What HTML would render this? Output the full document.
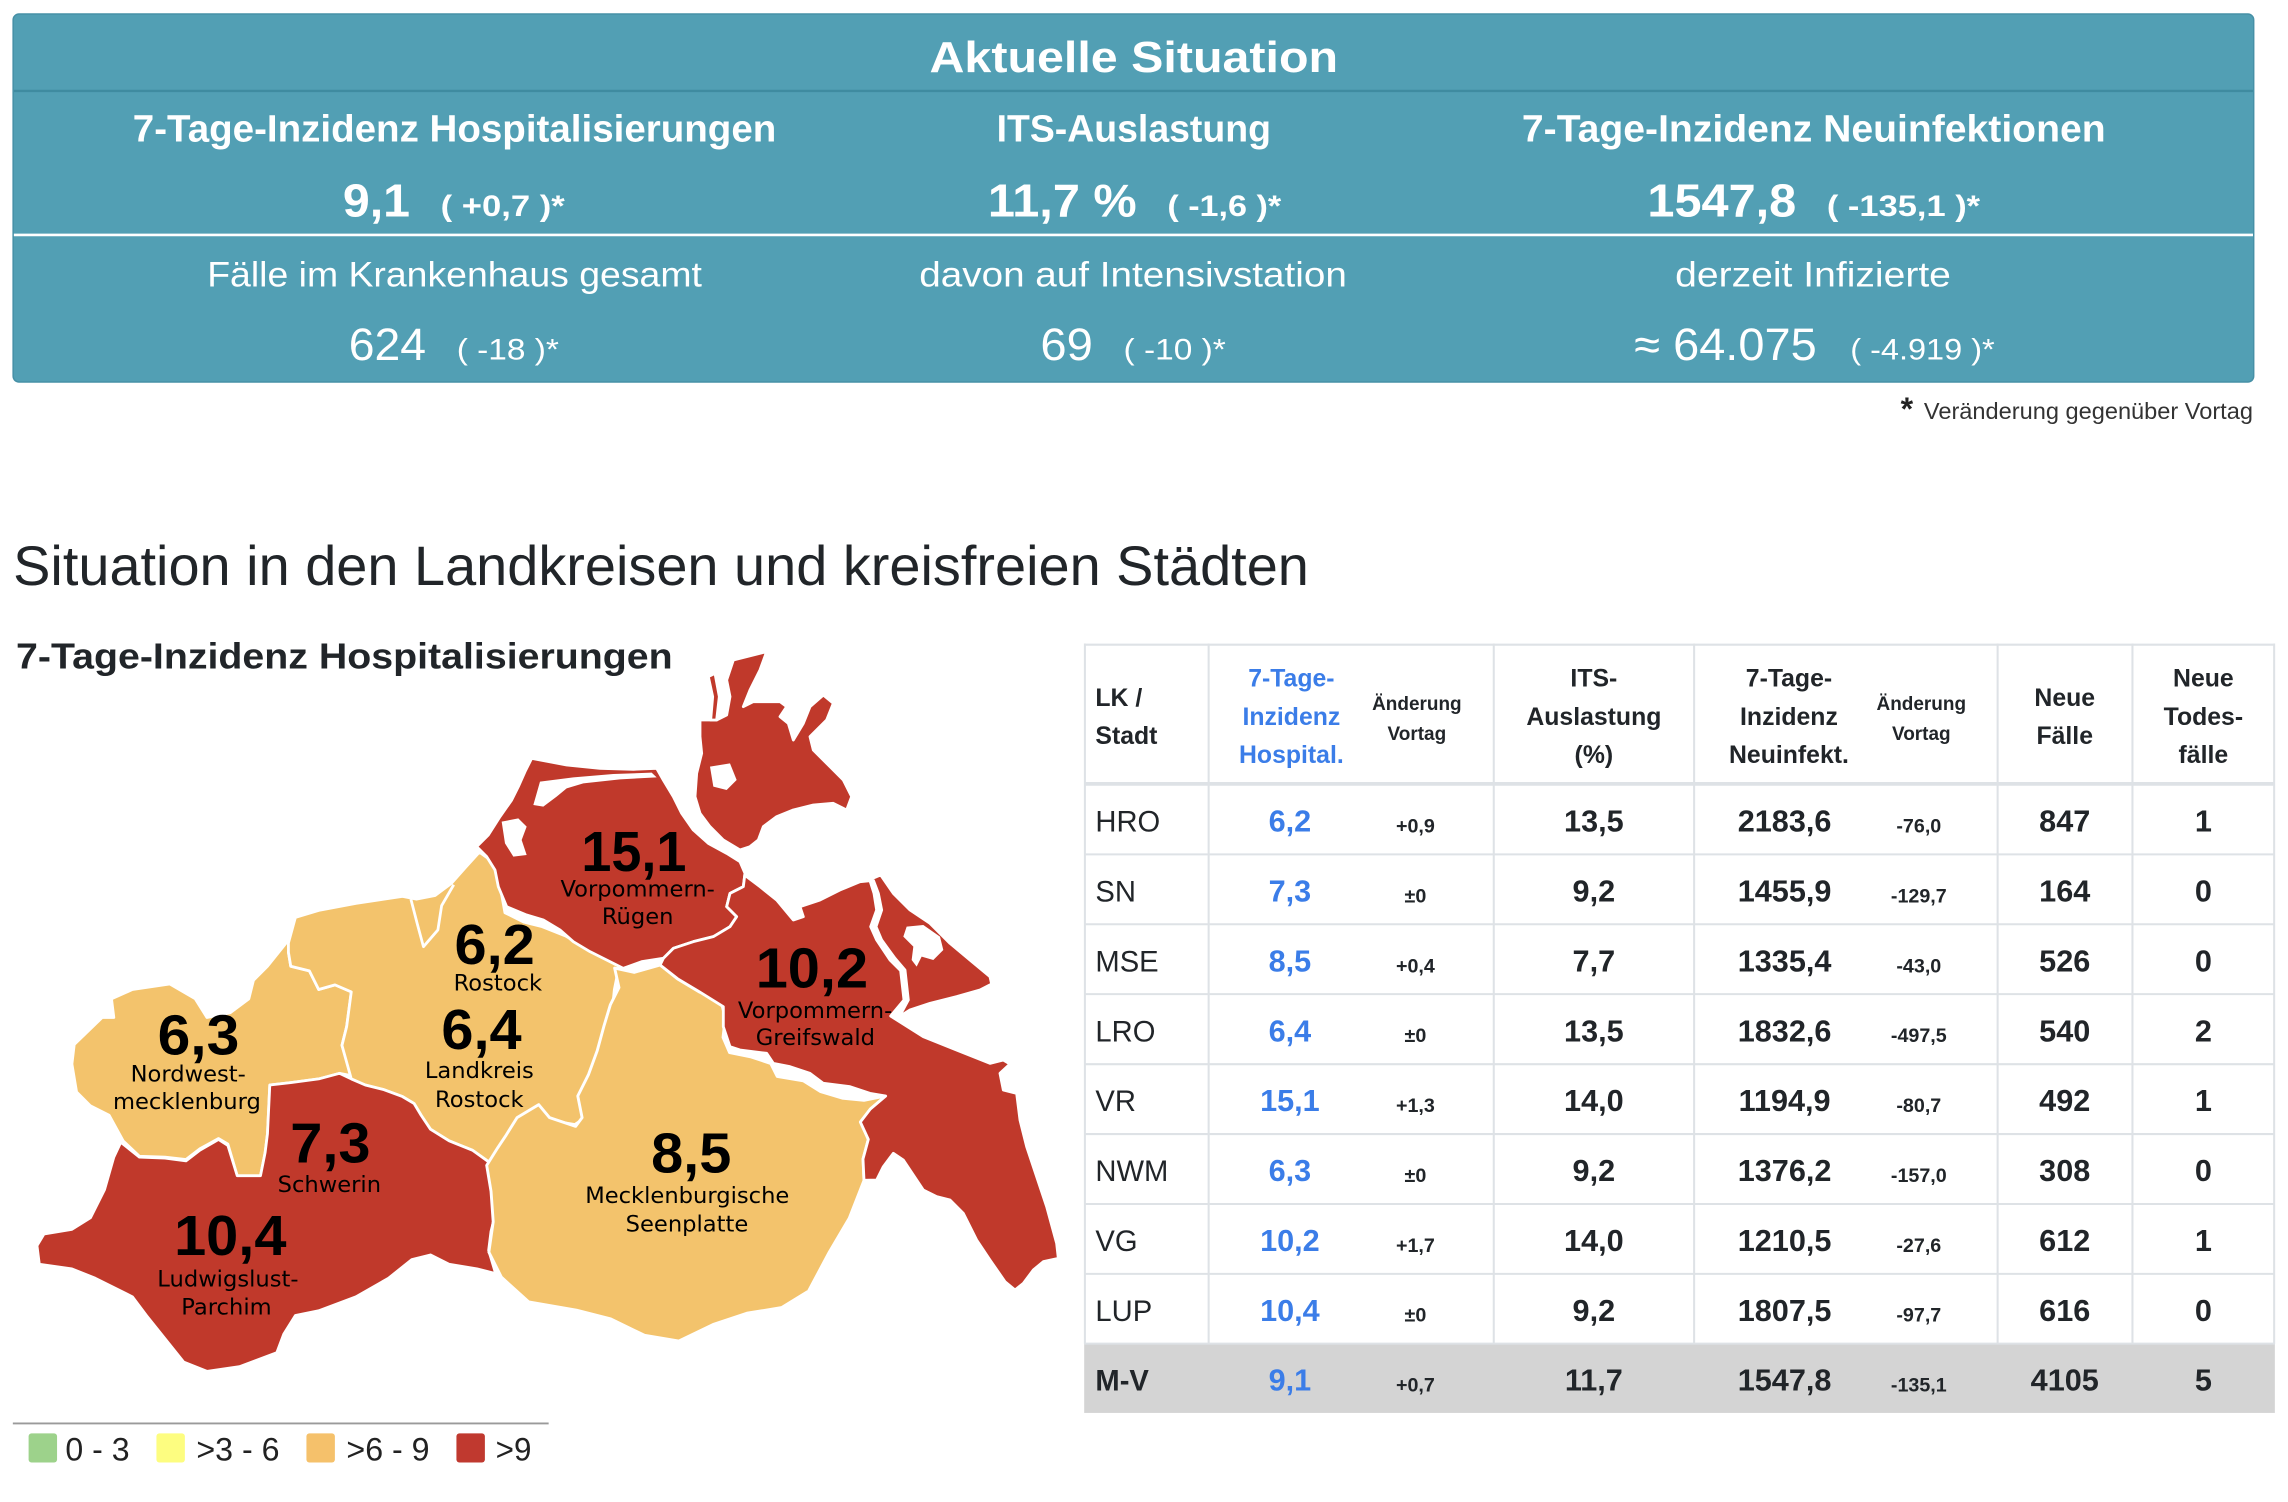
<!DOCTYPE html>
<html><head><meta charset="utf-8">
<style>html,body{margin:0;padding:0;background:#fff}svg{display:block}</style>
</head><body>
<svg xmlns="http://www.w3.org/2000/svg" width="2288" height="1502" viewBox="0 0 1568 1029.34" font-family="'Liberation Sans', Arial, sans-serif">
<rect x="0" y="0" width="1568" height="1029.34" fill="#fff"/>

<!-- Top box -->
<rect x="9" y="9.6" width="1535.5" height="252.2" rx="4" fill="#529fb4" stroke="#4690a6" stroke-width="1"/>
<line x1="9.5" y1="62.3" x2="1544" y2="62.3" stroke="#3f8ba0" stroke-width="1.6"/>
<line x1="9.5" y1="161" x2="1544" y2="161" stroke="#fff" stroke-width="1.8"/>
<g fill="#fff">
<text x="777" y="49.5" font-size="30" font-weight="bold" text-anchor="middle" textLength="280" lengthAdjust="spacingAndGlyphs">Aktuelle Situation</text>
<text x="311.5" y="97" font-size="26" font-weight="bold" text-anchor="middle" textLength="441" lengthAdjust="spacingAndGlyphs">7-Tage-Inzidenz Hospitalisierungen</text>
<text x="777" y="97" font-size="26" font-weight="bold" text-anchor="middle" textLength="188" lengthAdjust="spacingAndGlyphs">ITS-Auslastung</text>
<text x="1243" y="97" font-size="26" font-weight="bold" text-anchor="middle" textLength="400" lengthAdjust="spacingAndGlyphs">7-Tage-Inzidenz Neuinfektionen</text>

<text x="235" y="148.5" font-size="32" font-weight="bold" textLength="46" lengthAdjust="spacingAndGlyphs">9,1</text>
<text x="302" y="148" font-size="20" font-weight="bold" textLength="85" lengthAdjust="spacingAndGlyphs">( +0,7 )*</text>
<text x="677" y="148.5" font-size="32" font-weight="bold" textLength="102" lengthAdjust="spacingAndGlyphs">11,7 %</text>
<text x="800" y="148" font-size="20" font-weight="bold" textLength="78" lengthAdjust="spacingAndGlyphs">( -1,6 )*</text>
<text x="1129" y="148.5" font-size="32" font-weight="bold" textLength="102" lengthAdjust="spacingAndGlyphs">1547,8</text>
<text x="1252" y="148" font-size="20" font-weight="bold" textLength="105" lengthAdjust="spacingAndGlyphs">( -135,1 )*</text>

<text x="311.5" y="196.5" font-size="24" text-anchor="middle" textLength="339" lengthAdjust="spacingAndGlyphs">Fälle im Krankenhaus gesamt</text>
<text x="776.5" y="196.5" font-size="24" text-anchor="middle" textLength="293" lengthAdjust="spacingAndGlyphs">davon auf Intensivstation</text>
<text x="1242.5" y="196.5" font-size="24" text-anchor="middle" textLength="189" lengthAdjust="spacingAndGlyphs">derzeit Infizierte</text>

<text x="239" y="246.7" font-size="31" textLength="53" lengthAdjust="spacingAndGlyphs">624</text>
<text x="313" y="246.5" font-size="20" textLength="70" lengthAdjust="spacingAndGlyphs">( -18 )*</text>
<text x="713" y="246.7" font-size="31" textLength="36" lengthAdjust="spacingAndGlyphs">69</text>
<text x="770" y="246.5" font-size="20" textLength="70" lengthAdjust="spacingAndGlyphs">( -10 )*</text>
<text x="1120" y="246.7" font-size="31" textLength="125" lengthAdjust="spacingAndGlyphs">≈ 64.075</text>
<text x="1268" y="246.5" font-size="20" textLength="99" lengthAdjust="spacingAndGlyphs">( -4.919 )*</text>
</g>

<!-- footnote -->
<text x="1302.5" y="288" font-size="22" font-weight="bold" fill="#222">*</text>
<text x="1318.5" y="287" font-size="16" fill="#333" textLength="225.5" lengthAdjust="spacingAndGlyphs">Veränderung gegenüber Vortag</text>

<!-- Heading -->
<text x="9" y="401" font-size="38" fill="#212529" textLength="888" lengthAdjust="spacingAndGlyphs">Situation in den Landkreisen und kreisfreien Städten</text>
<text x="11" y="458" font-size="25" font-weight="bold" fill="#212529" textLength="450" lengthAdjust="spacingAndGlyphs">7-Tage-Inzidenz Hospitalisierungen</text>

<!-- MAP west group -->
<g transform="translate(20.56,442) scale(0.3191)" stroke="#fff" stroke-width="6" stroke-linejoin="round">
<polygon fill="#f3c36c" points="95,858 155,800 180,800 175,760 220,740 300,728 355,760 380,800 430,790 470,760 480,720 510,690 550,640 565,625 555,660 560,690 600,700 620,740 655,730 690,745 680,820 670,860 690,925 665,920 620,932 560,940 515,945 510,1050 505,1090 495,1140 445,1140 425,1072 405,1060 365,1082 335,1105 290,1100 235,1098 200,1065 170,1010 130,990 100,960 90,900"/>
<polygon fill="#f3c36c" points="555,640 570,585 620,570 700,555 800,540 830,546 870,538 905,512 935,478 965,445 1000,470 1010,520 1020,575 1060,595 1100,605 1150,625 1210,660 1265,690 1255,740 1250,790 1235,850 1220,900 1195,950 1185,1020 1170,1030 1110,1020 1085,1050 1055,1030 1040,1070 1000,1095 985,1110 950,1085 900,1065 860,1040 840,1010 825,985 800,970 760,955 720,945 690,932 670,860 680,820 690,745 655,730 620,740 600,700 560,690 555,660"/>
<polyline fill="none" points="818,546 832,600 845,648 876,612 884,560 910,515"/>
<polygon fill="#c0392b" points="195,1068 235,1100 290,1102 335,1108 365,1085 405,1062 425,1075 445,1140 495,1140 505,1090 510,1050 515,945 560,940 620,932 665,920 690,932 720,945 760,955 800,970 825,985 840,1010 860,1040 900,1065 950,1085 985,1110 995,1160 1000,1220 990,1260 985,1300 1000,1350 960,1340 900,1330 860,1310 820,1320 770,1360 700,1400 620,1430 570,1440 545,1480 530,1520 450,1550 380,1560 330,1540 290,1490 250,1440 220,1400 140,1360 90,1340 20,1330 15,1290 30,1265 90,1255 130,1230 160,1170 180,1100"/>
</g>

<!-- MSE (east group) -->
<g transform="translate(274.1,442) scale(0.2972)" stroke="#fff" stroke-width="6.7" stroke-linejoin="round">
<polygon fill="#f3c36c" points="495,745 540,755 600,738 640,770 690,800 740,820 750,860 745,905 760,940 810,950 855,965 870,995 930,1005 970,1030 1020,1045 1070,1050 1120,1040 1085,1070 1062,1100 1080,1140 1068,1185 1070,1235 1036,1322 990,1400 942,1490 880,1528 800,1541 722,1567 643,1605 564,1592 486,1554 407,1534 297,1515 234,1458 205,1400 215,1330 210,1260 200,1200 225,1160 245,1130 270,1090 320,1060 345,1090 405,1110 420,1090 410,1040 435,990 455,935 470,880 485,830 505,790"/>
</g>

<!-- VR + Rügen -->
<g transform="translate(315.24,438.6) scale(0.22844)" stroke="#fff" stroke-width="8.5" stroke-linejoin="round">
<polygon fill="#c0392b" points="50,620 85,585 120,530 155,480 175,440 195,395 215,355 320,375 420,385 520,388 590,385 610,420 640,470 665,520 700,570 745,610 800,640 840,665 855,700 850,740 810,760 800,800 830,830 810,860 760,890 700,905 640,925 610,955 545,965 490,985 440,960 390,935 340,905 300,870 250,840 200,825 140,800 115,740 105,690 80,650"/>
<polygon fill="#c0392b" points="720,240 770,240 800,225 810,170 800,120 820,60 920,35 900,90 870,150 850,200 880,185 960,185 980,200 960,230 985,250 1000,300 1030,250 1050,200 1090,165 1120,190 1100,240 1050,290 1060,330 1110,380 1150,420 1175,470 1160,510 1120,490 1060,495 1000,510 950,530 910,560 895,600 870,620 840,630 790,600 750,560 720,520 705,470 710,400 725,340 720,290"/>
<polygon fill="#c0392b" points="745,110 765,100 778,170 770,240 752,240 758,170"/>
<g fill="#fff" stroke="none">
<polygon points="240,425 340,412 460,402 575,398 590,412 480,418 370,430 320,445 290,470 250,500 220,495 230,460"/>
<polygon points="125,545 175,535 200,560 185,600 200,645 160,650 135,610"/>
<polygon points="750,380 810,370 830,420 800,450 760,440"/>
</g>
</g>

<!-- VG + Usedom -->
<g transform="translate(472.86,589.37) scale(0.22844)" stroke="#fff" stroke-width="8.5" stroke-linejoin="round">
<polygon fill="#c0392b" points="170,50 210,80 260,120 310,180 340,170 330,140 390,120 450,90 510,65 540,62 552,100 560,150 542,200 560,240 600,300 632,332 642,420 602,468 700,530 800,570 900,610 940,600 960,612 930,640 940,690 980,700 990,780 1010,860 1040,950 1070,1040 1100,1150 1105,1195 1060,1205 1030,1230 1000,1270 975,1290 945,1265 900,1200 860,1140 820,1060 780,1020 740,1010 700,990 640,900 610,880 580,920 560,960 522,961 519,897 535,838 511,786 541,747 587,708 540,700 480,680 400,670 360,640 300,620 250,610 230,580 150,570 120,560 100,500 100,440 27.7,395 -37.5,356 -89.6,315 -80,295 -50,265 10,245 70,230 120,200 140,170 110,140 120,100 160,80 165,40"/>
<polygon fill="#c0392b" points="548,55 572,45 610,100 660,150 720,190 780,250 840,300 900,350 905,372 870,390 800,410 720,430 660,450 628,470 655,420 645,330 615,295 575,240 558,200 575,150 565,100"/>
<polygon fill="#fff" stroke="none" points="650,200 700,195 750,230 760,270 730,300 695,290 680,320 665,300 670,260 640,230"/>
</g>

<!-- Map labels -->
<g fill="#000" text-anchor="middle">
<g font-weight="bold" font-size="39">
<text x="434.4" y="596.8" textLength="72" lengthAdjust="spacingAndGlyphs">15,1</text>
<text x="339" y="660.6" textLength="55" lengthAdjust="spacingAndGlyphs">6,2</text>
<text x="330" y="719" textLength="55" lengthAdjust="spacingAndGlyphs">6,4</text>
<text x="136" y="722.8" textLength="56" lengthAdjust="spacingAndGlyphs">6,3</text>
<text x="226.4" y="796.8" textLength="55" lengthAdjust="spacingAndGlyphs">7,3</text>
<text x="157.8" y="860" textLength="77" lengthAdjust="spacingAndGlyphs">10,4</text>
<text x="473.7" y="803.5" textLength="55" lengthAdjust="spacingAndGlyphs">8,5</text>
<text x="556.4" y="676.8" textLength="77" lengthAdjust="spacingAndGlyphs">10,2</text>
</g>
<g font-family="'DejaVu Sans', Verdana, sans-serif" font-size="15.5">
<text x="437" y="614.3">Vorpommern-</text>
<text x="437" y="633.4">Rügen</text>
<text x="341.2" y="678.8">Rostock</text>
<text x="328.5" y="738.7">Landkreis</text>
<text x="328.5" y="758.8">Rostock</text>
<text x="129" y="741.3">Nordwest-</text>
<text x="128.1" y="760">mecklenburg</text>
<text x="225.7" y="817">Schwerin</text>
<text x="156.2" y="881.7">Ludwigslust-</text>
<text x="155.2" y="900.8">Parchim</text>
<text x="471" y="824.5">Mecklenburgische</text>
<text x="470.8" y="843.8">Seenplatte</text>
<text x="558.6" y="697.6">Vorpommern-</text>
<text x="558.8" y="716">Greifswald</text>
</g>
</g>

<!-- Legend -->
<line x1="8.8" y1="975.5" x2="376" y2="975.5" stroke="#9a9a9a" stroke-width="1.3"/>
<rect x="19.6" y="982.3" width="19.5" height="20" rx="2" fill="#9dd28b"/>
<rect x="107.2" y="982.3" width="19.5" height="20" rx="2" fill="#fdfd80"/>
<rect x="210" y="982.3" width="19.5" height="20" rx="2" fill="#f5c16b"/>
<rect x="312.8" y="982.3" width="19.5" height="20" rx="2" fill="#c0392f"/>
<g font-size="22" fill="#222">
<text x="44.8" y="1001" textLength="44" lengthAdjust="spacingAndGlyphs">0 - 3</text>
<text x="134.6" y="1001" textLength="57" lengthAdjust="spacingAndGlyphs">&gt;3 - 6</text>
<text x="237.4" y="1001" textLength="57" lengthAdjust="spacingAndGlyphs">&gt;6 - 9</text>
<text x="339.7" y="1001" textLength="24.5" lengthAdjust="spacingAndGlyphs">&gt;9</text>
</g>

<!-- Table -->
<rect x="743" y="920.8" width="816" height="47.5" fill="#d4d4d4"/>
<g stroke="#dee2e6" stroke-width="1.4">
<line x1="743" y1="441.8" x2="1559" y2="441.8"/>
<line x1="743" y1="585.5" x2="1559" y2="585.5"/>
<line x1="743" y1="633.4" x2="1559" y2="633.4"/>
<line x1="743" y1="681.3" x2="1559" y2="681.3"/>
<line x1="743" y1="729.3" x2="1559" y2="729.3"/>
<line x1="743" y1="777.2" x2="1559" y2="777.2"/>
<line x1="743" y1="825.1" x2="1559" y2="825.1"/>
<line x1="743" y1="873" x2="1559" y2="873"/>
<line x1="743" y1="920.8" x2="1559" y2="920.8"/>
<line x1="743.5" y1="441" x2="743.5" y2="921"/>
<line x1="828.3" y1="441" x2="828.3" y2="921"/>
<line x1="1023.7" y1="441" x2="1023.7" y2="921"/>
<line x1="1161" y1="441" x2="1161" y2="921"/>
<line x1="1369" y1="441" x2="1369" y2="921"/>
<line x1="1461.4" y1="441" x2="1461.4" y2="921"/>
<line x1="1558.5" y1="441" x2="1558.5" y2="921"/>
</g>
<line x1="743" y1="537.2" x2="1559" y2="537.2" stroke="#dee2e6" stroke-width="2.6"/>

<g font-weight="bold" fill="#212529" font-size="17">
<text x="750.7" y="483.8">LK /</text>
<text x="750.7" y="509.9">Stadt</text>
<g text-anchor="middle" fill="#3b7de8">
<text x="885" y="470.6">7-Tage-</text>
<text x="885" y="496.8">Inzidenz</text>
<text x="885" y="523">Hospital.</text>
</g>
<g text-anchor="middle">
<text x="1092.3" y="470.6">ITS-</text>
<text x="1092.3" y="496.8">Auslastung</text>
<text x="1092.3" y="523">(%)</text>
<text x="1226" y="470.6">7-Tage-</text>
<text x="1226" y="496.8">Inzidenz</text>
<text x="1226" y="523">Neuinfekt.</text>
<text x="1415" y="483.8">Neue</text>
<text x="1415" y="509.9">Fälle</text>
<text x="1510" y="470.6">Neue</text>
<text x="1510" y="496.8">Todes-</text>
<text x="1510" y="523">fälle</text>
<g font-size="13">
<text x="971" y="486.6">Änderung</text>
<text x="971" y="507">Vortag</text>
<text x="1316.7" y="486.6">Änderung</text>
<text x="1316.7" y="507">Vortag</text>
</g>
</g>
</g>

<!-- Table rows -->
<g fill="#212529" font-size="20">
<text x="750.7" y="569.9">HRO</text>
<text x="750.7" y="617.8">SN</text>
<text x="750.7" y="665.7">MSE</text>
<text x="750.7" y="713.6">LRO</text>
<text x="750.7" y="761.5">VR</text>
<text x="750.7" y="809.4">NWM</text>
<text x="750.7" y="857.3">VG</text>
<text x="750.7" y="905.2">LUP</text>
<text x="750.7" y="953.1" font-weight="bold">M-V</text>
</g>
<g font-weight="bold" font-size="21" text-anchor="middle" fill="#3b7de8">
<text x="884" y="569.9">6,2</text>
<text x="884" y="617.8">7,3</text>
<text x="884" y="665.7">8,5</text>
<text x="884" y="713.6">6,4</text>
<text x="884" y="761.5">15,1</text>
<text x="884" y="809.4">6,3</text>
<text x="884" y="857.3">10,2</text>
<text x="884" y="905.2">10,4</text>
<text x="884" y="953.1">9,1</text>
</g>
<g font-weight="bold" font-size="13.5" text-anchor="middle" fill="#212529">
<text x="970" y="570.5">+0,9</text>
<text x="970" y="618.4">±0</text>
<text x="970" y="666.3">+0,4</text>
<text x="970" y="714.2">±0</text>
<text x="970" y="762.1">+1,3</text>
<text x="970" y="810">±0</text>
<text x="970" y="857.9">+1,7</text>
<text x="970" y="905.8">±0</text>
<text x="970" y="953.7">+0,7</text>
<text x="1315" y="570.5">-76,0</text>
<text x="1315" y="618.4">-129,7</text>
<text x="1315" y="666.3">-43,0</text>
<text x="1315" y="714.2">-497,5</text>
<text x="1315" y="762.1">-80,7</text>
<text x="1315" y="810">-157,0</text>
<text x="1315" y="857.9">-27,6</text>
<text x="1315" y="905.8">-97,7</text>
<text x="1315" y="953.7">-135,1</text>
</g>
<g font-weight="bold" font-size="21" text-anchor="middle" fill="#212529">
<text x="1092.3" y="569.9">13,5</text>
<text x="1092.3" y="617.8">9,2</text>
<text x="1092.3" y="665.7">7,7</text>
<text x="1092.3" y="713.6">13,5</text>
<text x="1092.3" y="761.5">14,0</text>
<text x="1092.3" y="809.4">9,2</text>
<text x="1092.3" y="857.3">14,0</text>
<text x="1092.3" y="905.2">9,2</text>
<text x="1092.3" y="953.1">11,7</text>
<text x="1223" y="569.9">2183,6</text>
<text x="1223" y="617.8">1455,9</text>
<text x="1223" y="665.7">1335,4</text>
<text x="1223" y="713.6">1832,6</text>
<text x="1223" y="761.5">1194,9</text>
<text x="1223" y="809.4">1376,2</text>
<text x="1223" y="857.3">1210,5</text>
<text x="1223" y="905.2">1807,5</text>
<text x="1223" y="953.1">1547,8</text>
<text x="1415" y="569.9">847</text>
<text x="1415" y="617.8">164</text>
<text x="1415" y="665.7">526</text>
<text x="1415" y="713.6">540</text>
<text x="1415" y="761.5">492</text>
<text x="1415" y="809.4">308</text>
<text x="1415" y="857.3">612</text>
<text x="1415" y="905.2">616</text>
<text x="1415" y="953.1">4105</text>
<text x="1510" y="569.9">1</text>
<text x="1510" y="617.8">0</text>
<text x="1510" y="665.7">0</text>
<text x="1510" y="713.6">2</text>
<text x="1510" y="761.5">1</text>
<text x="1510" y="809.4">0</text>
<text x="1510" y="857.3">1</text>
<text x="1510" y="905.2">0</text>
<text x="1510" y="953.1">5</text>
</g>
</svg>
</body></html>
